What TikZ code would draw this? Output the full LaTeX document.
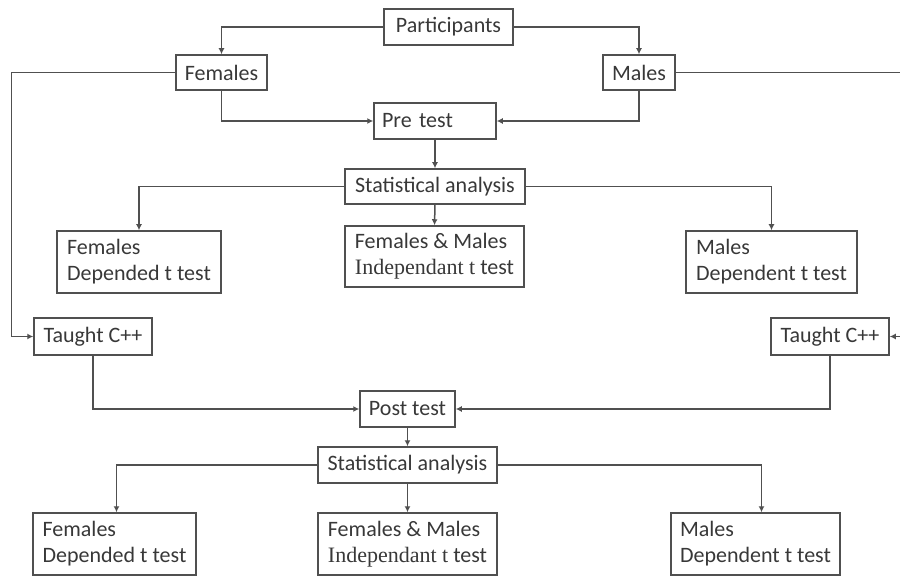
\documentclass[tikz,border=0pt]{standalone}
\usepackage{fontspec}
\setmainfont{Carlito}
\newfontfamily\oddfont{Liberation Serif}
\usepackage{xcolor}
\usetikzlibrary{positioning}
\usetikzlibrary{arrows.meta}
\definecolor{linegray}{HTML}{505050}
\definecolor{textgray}{HTML}{383838}
\tikzset{
  myarrow/.style={
    draw=linegray,
    line width=1.5pt,
    -{Latex[length=6pt,width=6pt]},
  },
  myline/.style={
    draw=linegray,
    line width=1.5pt,
  },
  mybox/.style={
    draw=linegray,
    shape=rectangle,
    line width=1.5pt,
    align=left,
    inner xsep=4pt,
    inner ysep=2pt,
    text=textgray,
    font=\fontsize{22}{26}\selectfont
  },
  mytwoline/.style={
    mybox,
    minimum height=62pt,
  }
}

\begin{document}
\begin{tikzpicture}[x=1pt, y=-1pt, auto]
    \useasboundingbox (0,0) rectangle (900,577);

    \node[mybox, minimum width=129pt, minimum height=36pt] (participants) at (448.5,27)  {Participants};
    \node[mybox, minimum width=91pt,  minimum height=35pt] (females)      at (221.5,72.5) {Females};
    \node[mybox, minimum width=72pt,  minimum height=35pt] (males)        at (639,72.5)   {Males};
    \node[mybox, inner xsep=8pt, text width=106pt, minimum height=36pt] (pretest) at (435,121) {\mbox{Pre test}};
    \node[mybox, minimum width=180pt, minimum height=35pt] (statA)        at (435,186.5)  {Statistical analysis};

    \node[mytwoline, minimum width=164pt] (femdepA) at (139,262)     {Females\\Depended t test};
    \node[mytwoline, minimum width=179pt, minimum height=61pt] (bothA) at (434.5,256.5) {Females \& Males\\{\oddfont Independant t} test};
    \node[mytwoline, minimum width=171pt] (maldepA) at (771.5,262)   {Males\\Dependent t test};

    \node[mybox, minimum width=118pt, minimum height=37pt] (taughtL)  at (93,336.5)  {Taught C++};
    \node[mybox, minimum width=118pt, minimum height=37pt] (taughtR)  at (830,336.5) {Taught C++};
    \node[mybox, minimum width=95pt,  minimum height=36pt] (posttest) at (407.5,409) {Post test};
    \node[mybox, minimum width=179pt, minimum height=36pt] (statB)    at (407.5,465) {Statistical analysis};

    \node[mytwoline, minimum width=163pt] (femdepB) at (114.5,544) {Females\\Depended t test};
    \node[mytwoline, minimum width=179pt] (bothB)   at (407.5,544) {Females \& Males\\{\oddfont Independant t} test};
    \node[mytwoline, minimum width=169pt] (maldepB) at (755.5,544) {Males\\Dependent t test};

    % loose ends at the right border
    \coordinate (edgeM) at (900,72.5);
    \coordinate (edgeT) at (900,336.5);

    \draw[myarrow] (participants.west) -| (females.north);
    \draw[myarrow] (participants.east) -| (males.north);
    \draw[myarrow] (females.south) |- (pretest.west);
    \draw[myarrow] (males.south) |- (pretest.east);
    \draw[myarrow] (females.west) -- ++(-164,0) |- (taughtL.west);
    \draw[myline]  (males.east) -- (edgeM);
    \draw[myarrow] (edgeT) -- (taughtR.east);

    \draw[myarrow] (pretest) -- (statA);
    \draw[myarrow] (statA.west) -| (femdepA.north);
    \draw[myarrow] (statA.south) -- (bothA.north);
    \draw[myarrow] (statA.east) -| (maldepA.north);

    \draw[myarrow] (taughtL.south) |- (posttest.west);
    \draw[myarrow] (taughtR.south) |- (posttest.east);
    \draw[myarrow] (posttest) -- (statB);
    \draw[myarrow] (statB.west) -| ([xshift=2pt]femdepB.north);
    \draw[myarrow] (statB.south) -- (bothB.north);
    \draw[myarrow] (statB.east) -| ([xshift=6pt]maldepB.north);
  \end{tikzpicture}
\end{document}
